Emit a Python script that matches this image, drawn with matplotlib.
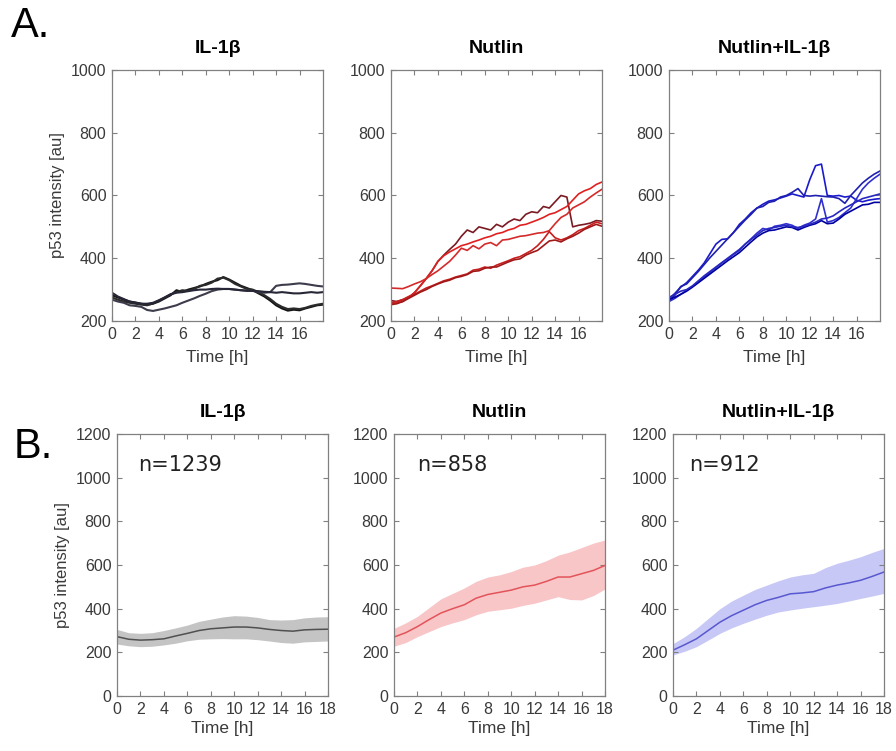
import numpy as np
import matplotlib
matplotlib.use('Agg')
import matplotlib.pyplot as plt

plt.rcParams['font.family'] = ['Liberation Sans', 'DejaVu Sans']

# панель A: отдельные клетки, время с шагом 0.5 ч
time_a = np.arange(0, 18.01, 0.5)

il1b_traces = [
    [282, 275, 268, 262, 259, 255, 252, 255, 262, 272, 282, 298, 292, 300, 305, 310, 318, 325, 330,
     340, 332, 322, 312, 305, 298, 288, 278, 265, 250, 240, 233, 236, 234, 240, 245, 250, 252],
    [275, 268, 262, 258, 255, 252, 250, 256, 265, 275, 285, 292, 298, 296, 302, 312, 315, 322, 335,
     338, 330, 318, 310, 302, 300, 292, 282, 270, 255, 245, 238, 240, 238, 242, 248, 252, 255],
    [268, 262, 258, 250, 248, 245, 235, 232, 236, 240, 245, 250, 258, 265, 272, 280, 287, 295, 300,
     302, 302, 300, 298, 297, 296, 292, 290, 292, 312, 315, 316, 318, 320, 318, 315, 312, 310],
    [290, 278, 270, 262, 258, 255, 255, 258, 266, 275, 285, 290, 292, 295, 298, 300, 300, 302, 303,
     302, 302, 300, 298, 296, 296, 295, 293, 292, 290, 292, 290, 288, 288, 290, 292, 290, 292],
]
il1b_colors = ['#141414', '#2b2b2b', '#3c3c4a', '#262636']

nutlin_traces = [
    [265, 262, 268, 275, 290, 312, 335, 360, 390, 410, 428, 445, 470, 490, 482, 500, 495, 490, 508,
     500, 515, 525, 520, 540, 548, 545, 565, 560, 580, 600, 595, 500, 505, 508, 512, 520, 518],
    [255, 258, 262, 275, 290, 312, 335, 360, 390, 408, 420, 430, 440, 445, 452, 458, 465, 470, 478,
     482, 490, 495, 505, 508, 515, 522, 530, 540, 545, 555, 565, 585, 605, 615, 622, 635, 643],
    [305, 304, 303, 310, 318, 325, 335, 348, 360, 375, 390, 410, 432, 425, 440, 430, 445, 450, 440,
     458, 460, 465, 470, 472, 476, 480, 482, 488, 510, 530, 540, 560, 570, 580, 595, 608, 620],
    [258, 262, 268, 278, 285, 295, 305, 312, 320, 328, 333, 340, 345, 350, 362, 365, 372, 368, 378,
     385, 392, 400, 405, 415, 425, 440, 460, 485, 465, 458, 465, 475, 488, 495, 505, 515, 510],
    [252, 255, 262, 272, 282, 292, 300, 310, 318, 325, 330, 338, 342, 348, 358, 360, 368, 372, 372,
     380, 388, 395, 398, 410, 418, 425, 440, 455, 458, 452, 462, 470, 480, 492, 500, 508, 502],
]
nutlin_colors = ['#7a1a22', '#e02020', '#d42a2a', '#c81e1e', '#a01818']

combo_traces = [
    [270, 288, 308, 322, 342, 362, 385, 415, 445, 460, 462, 482, 508, 525, 545, 560, 572, 582, 586,
     592, 598, 605, 600, 595, 650, 695, 700, 600, 598, 600, 595, 598, 585, 580, 585, 588, 590],
    [265, 282, 310, 318, 338, 358, 380, 402, 422, 442, 462, 482, 502, 522, 540, 560, 565, 578, 582,
     595, 600, 610, 622, 600, 598, 600, 598, 596, 595, 590, 575, 600, 620, 640, 655, 668, 678],
    [262, 272, 285, 298, 310, 325, 340, 355, 370, 385, 398, 412, 425, 445, 462, 480, 495, 490, 502,
     505, 510, 505, 495, 505, 512, 525, 590, 515, 520, 530, 545, 560, 590, 620, 640, 655, 668],
    [268, 276, 285, 295, 308, 322, 336, 350, 364, 378, 392, 405, 418, 435, 452, 468, 480, 488, 490,
     495, 500, 498, 490, 498, 505, 510, 520, 510, 512, 525, 540, 550, 560, 570, 572, 578, 578],
    [275, 285, 295, 300, 312, 328, 344, 358, 372, 386, 400, 414, 428, 445, 460, 474, 488, 495, 498,
     502, 505, 500, 498, 502, 508, 515, 525, 528, 535, 548, 560, 570, 580, 590, 595, 600, 605],
]
combo_colors = ['#1a1acc', '#2020b0', '#3030d0', '#0000a0', '#2828c0']

# панель B: среднее и границы разброса, шаг 1 ч
hours = list(range(19))

il1b_mean = [272, 260, 256, 258, 262, 275, 287, 300, 308, 312, 316, 316, 312, 305, 300, 297, 303, 305, 306]
il1b_upper = [305, 290, 287, 290, 300, 312, 325, 342, 352, 362, 368, 366, 360, 350, 348, 350, 358, 362, 363]
il1b_lower = [238, 230, 226, 228, 234, 242, 253, 260, 262, 263, 262, 262, 258, 252, 245, 242, 248, 250, 252]

nutlin_mean = [270, 290, 318, 350, 380, 400, 418, 448, 465, 475, 485, 500, 508, 525, 545, 545, 560, 575, 598]
nutlin_upper = [310, 335, 365, 405, 445, 470, 495, 525, 545, 555, 570, 590, 600, 620, 645, 660, 680, 700, 715]
nutlin_lower = [228, 245, 272, 295, 318, 335, 350, 372, 388, 395, 402, 415, 425, 440, 455, 442, 440, 460, 490]

combo_mean = [210, 235, 262, 300, 338, 368, 393, 418, 438, 452, 468, 472, 478, 495, 508, 518, 530, 548, 568]
combo_upper = [240, 272, 310, 355, 400, 435, 462, 488, 508, 528, 545, 555, 562, 588, 608, 622, 638, 658, 676]
combo_lower = [188, 205, 226, 256, 287, 312, 333, 352, 370, 385, 394, 402, 409, 416, 424, 435, 447, 458, 470]

titles = ['IL-1β', 'Nutlin', 'Nutlin+IL-1β']
n_labels = ['n=1239', 'n=858', 'n=912']

fig = plt.figure(figsize=(8.96, 7.51), dpi=100)


def style_axes(ax):
    # оформление в стиле MATLAB: рамка и засечки внутрь со всех сторон
    for sp in ax.spines.values():
        sp.set_color('#808080')
        sp.set_linewidth(0.9)
    ax.tick_params(direction='in', top=True, right=True, length=3.5, width=0.8,
                   color='#808080', labelcolor='#3a3a3a', labelsize=11.5, pad=4)


# верхний ряд
top_left = [0.125, 0.4364, 0.7467]
top_groups = [(il1b_traces, il1b_colors, 1.5), (nutlin_traces, nutlin_colors, 1.2),
              (combo_traces, combo_colors, 1.2)]
for i in range(3):
    ax = fig.add_axes([top_left[i], 0.5726, 0.2355, 0.3342])
    traces, colors, lw = top_groups[i]
    for tr, c in zip(traces, colors):
        ax.plot(time_a, tr, color=c, lw=lw)
    ax.set_xlim(0, 18)
    ax.set_ylim(200, 1000)
    ax.set_xticks(range(0, 17, 2))
    ax.set_yticks(range(200, 1001, 200))
    style_axes(ax)
    ax.set_title(titles[i], fontsize=14, fontweight='bold', pad=12)
    ax.set_xlabel('Time [h]', fontsize=12.5, color='#3a3a3a', labelpad=6)
    if i == 0:
        ax.set_ylabel('p53 intensity [au]', fontsize=12, color='#3a3a3a', labelpad=4)

# нижний ряд
bottom_left = [0.1306, 0.4397, 0.7511]
bottom_groups = [
    (il1b_mean, il1b_upper, il1b_lower, '#c4c4c4', '#505050'),
    (nutlin_mean, nutlin_upper, nutlin_lower, '#f9c6c8', '#e2545a'),
    (combo_mean, combo_upper, combo_lower, '#c8c8f6', '#5858d0'),
]
n_pos = [0.10, 0.11, 0.076]
for i in range(3):
    ax = fig.add_axes([bottom_left[i], 0.0732, 0.2355, 0.3489])
    m, up, lo, fill_c, line_c = bottom_groups[i]
    ax.fill_between(hours, lo, up, color=fill_c, lw=0)
    ax.plot(hours, m, color=line_c, lw=1.1)
    ax.set_xlim(0, 18)
    ax.set_ylim(0, 1200)
    ax.set_xticks(range(0, 19, 2))
    ax.set_yticks(range(0, 1201, 200))
    style_axes(ax)
    ax.set_title(titles[i], fontsize=14, fontweight='bold', pad=12)
    ax.set_xlabel('Time [h]', fontsize=12.5, color='#3a3a3a', labelpad=3)
    ax.text(n_pos[i], 0.88, n_labels[i], transform=ax.transAxes, fontsize=15,
            family='DejaVu Sans', color='#222222', va='center')
    if i == 0:
        ax.set_ylabel('p53 intensity [au]', fontsize=12, color='#3a3a3a', labelpad=4)

# буквы панелей
fig.text(0.012, 0.951, 'A.', fontsize=30, va='baseline')
fig.text(0.015, 0.39, 'B.', fontsize=30, va='baseline')

fig.savefig('out.png', dpi=100)
